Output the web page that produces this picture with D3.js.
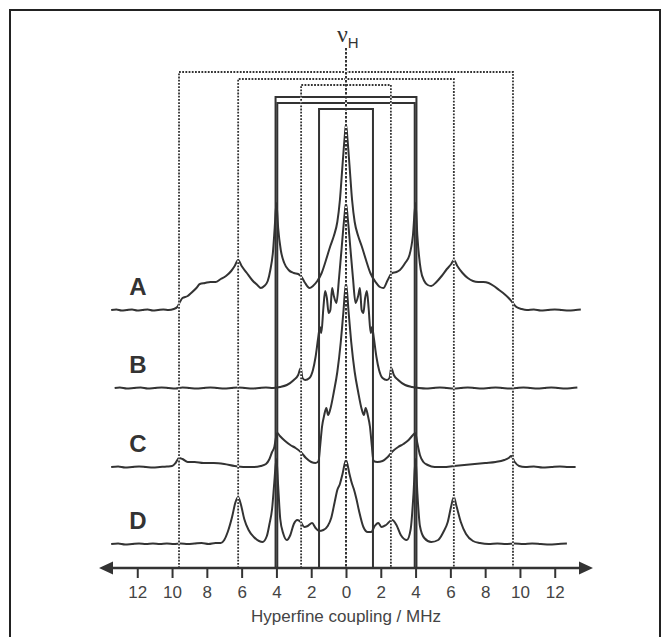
<!DOCTYPE html>
<html>
<head>
<meta charset="utf-8">
<script src="https://cdn.jsdelivr.net/npm/d3@7"></script>
<style>
  body { margin: 0; background: #fff; }
  text { font-family: "Liberation Sans", Arial, sans-serif; }
</style>
</head>
<body>
<svg id="chart" width="671" height="637"></svg>
<script>
// hyperfine coupling axis ticks (MHz)
const tickValues = [-12, -10, -8, -6, -4, -2, 0, 2, 4, 6, 8, 10, 12]
const labels = ['A', 'B', 'C', 'D']
// vertical stacking of the four traces
const offsets = [258, 180, 101, 24]

// [MHz, intensity]
const specA = [
  [-13.5, 0], [-13.2, 0.5], [-12.9, -0.5], [-12.6, 0], [-12.3, 0.5], [-12, -0.5], [-11.7, 0], [-11.4, 0.5],
  [-11.1, -0.5], [-10.8, 0], [-10.5, 0.5], [-10.2, 0], [-9.9, 1], [-9.7, 3], [-9.55, 8], [-9.4, 12],
  [-9.1, 14], [-8.9, 17], [-8.6, 22], [-8.4, 26], [-8.1, 27], [-7.8, 28], [-7.5, 28], [-7.2, 31],
  [-6.9, 34], [-6.6, 39], [-6.4, 44], [-6.2, 50], [-6.0, 44], [-5.7, 37], [-5.4, 30], [-5.1, 25],
  [-4.9, 22], [-4.7, 24], [-4.5, 29], [-4.35, 40], [-4.2, 58], [-4.1, 82], [-4.0, 107], [-3.9, 82],
  [-3.75, 60], [-3.55, 47], [-3.3, 40], [-3.0, 37], [-2.75, 36], [-2.55, 33], [-2.35, 27], [-2.1, 22],
  [-1.9, 24], [-1.65, 29], [-1.4, 37], [-1.15, 50], [-0.9, 64], [-0.7, 74], [-0.5, 88], [-0.35, 110],
  [-0.2, 145], [-0.08, 172], [0, 186], [0.08, 172], [0.2, 145], [0.35, 110], [0.5, 88], [0.7, 74],
  [0.9, 64], [1.15, 50], [1.4, 37], [1.7, 28], [1.95, 23], [2.15, 22], [2.4, 30], [2.65, 37],
  [2.9, 38], [3.1, 40], [3.4, 47], [3.65, 55], [3.85, 75], [4.0, 107], [4.1, 75], [4.3, 40],
  [4.5, 29], [4.7, 25], [4.9, 24], [5.2, 28], [5.5, 34], [5.8, 41], [6.05, 46], [6.2, 50],
  [6.4, 44], [6.7, 37], [7.0, 32], [7.3, 29], [7.6, 28], [7.9, 28], [8.2, 27], [8.5, 24],
  [8.8, 20], [9.1, 16], [9.35, 12], [9.55, 8], [9.8, 3], [10.1, 1], [10.4, 0], [10.8, 0.5],
  [11.2, -0.5], [11.6, 0], [12, 0.5], [12.4, 0], [12.8, -0.5], [13.2, 0], [13.5, 0.5]
]

const specB = [
  [-13.3, 0], [-13, 0.5], [-12.6, -0.5], [-12.2, 0], [-11.8, 0.5], [-11.4, -0.5], [-11, 0], [-10.6, 0.5],
  [-10.2, 0], [-9.8, -0.5], [-9.4, 0.5], [-9, 0], [-8.6, -0.5], [-8.2, 0], [-7.8, 0.5], [-7.4, 0],
  [-7, -0.5], [-6.6, 0], [-6.2, 0.5], [-5.8, 0], [-5.4, -0.5], [-5, 0], [-4.6, 0.5], [-4.2, 0],
  [-3.8, 1], [-3.4, 3], [-3.0, 8], [-2.75, 13], [-2.6, 20], [-2.5, 10], [-2.35, 8], [-2.1, 10],
  [-1.9, 18], [-1.75, 31], [-1.6, 50], [-1.5, 61], [-1.42, 55], [-1.3, 80], [-1.2, 97], [-1.1, 90],
  [-1.0, 75], [-0.9, 78], [-0.8, 100], [-0.7, 92], [-0.55, 85], [-0.4, 110], [-0.25, 140], [-0.1, 170],
  [0, 185], [0.1, 170], [0.25, 140], [0.4, 110], [0.55, 85], [0.7, 92], [0.8, 100], [0.9, 78],
  [1.0, 75], [1.1, 90], [1.2, 97], [1.3, 80], [1.42, 55], [1.5, 61], [1.6, 50], [1.75, 31],
  [1.9, 18], [2.1, 10], [2.35, 8], [2.5, 10], [2.6, 20], [2.75, 13], [3.0, 8], [3.4, 3],
  [3.8, 1], [4.2, 0], [4.6, -0.5], [5, 0], [5.4, 0.5], [5.8, 0], [6.2, -0.5], [6.6, 0],
  [7, 0.5], [7.4, 0], [7.8, -0.5], [8.2, 0], [8.6, 0.5], [9, 0], [9.4, -0.5], [9.8, 0],
  [10.2, 0.5], [10.6, 0], [11, -0.5], [11.4, 0], [11.8, 0.5], [12.2, 0], [12.6, -0.5], [13, 0], [13.3, 0.5]
]

const specC = [
  [-13.5, 0], [-13.1, 0.5], [-12.7, -0.5], [-12.3, 0], [-11.9, 0.5], [-11.5, 0], [-11.1, -0.5], [-10.7, 0],
  [-10.3, 0.5], [-10.0, 1], [-9.8, 4], [-9.6, 9], [-9.4, 8], [-9.1, 5], [-8.7, 5], [-8.2, 4],
  [-7.6, 4], [-7.0, 3], [-6.4, 1], [-5.8, 0], [-5.3, 0], [-4.9, 1], [-4.6, 3], [-4.4, 8],
  [-4.25, 15], [-4.12, 20], [-4.02, 30], [-3.95, 34], [-3.8, 31], [-3.5, 26], [-3.2, 22], [-2.9, 19],
  [-2.6, 15], [-2.3, 9], [-2.0, 5], [-1.75, 4], [-1.58, 6], [-1.48, 22], [-1.38, 40], [-1.25, 52],
  [-1.13, 59], [-1.03, 52], [-0.9, 58], [-0.7, 75], [-0.5, 95], [-0.3, 125], [-0.15, 155], [0, 184],
  [0.15, 155], [0.3, 125], [0.5, 95], [0.7, 75], [0.9, 58], [1.03, 52], [1.13, 59], [1.25, 52],
  [1.38, 40], [1.48, 22], [1.58, 6], [1.8, 5], [2.1, 6], [2.4, 10], [2.7, 16], [3.0, 20],
  [3.3, 23], [3.6, 27], [3.85, 32], [3.98, 34], [4.1, 24], [4.25, 12], [4.45, 5], [4.7, 2],
  [5.1, 0], [5.6, 0], [6.2, 1], [6.8, 2], [7.4, 3], [8.0, 4], [8.6, 5], [9.1, 7],
  [9.35, 9], [9.5, 11], [9.7, 5], [9.95, 1], [10.3, 0], [10.8, 0.5], [11.3, -0.5], [11.8, 0],
  [12.3, 0.5], [12.8, 0], [13.2, 0]
]

const specD = [
  [-13.5, 0], [-13.1, 0.5], [-12.7, -0.5], [-12.3, 0], [-11.9, 0.5], [-11.5, 0], [-11.1, 0.5], [-10.7, 0],
  [-10.3, 0.5], [-9.9, 0], [-9.5, 0.5], [-9.1, 0], [-8.7, 0.5], [-8.3, 1], [-7.9, 0], [-7.5, 1],
  [-7.2, 1], [-7.0, 4], [-6.8, 12], [-6.55, 27], [-6.35, 42], [-6.2, 47], [-6.05, 40], [-5.85, 25],
  [-5.6, 14], [-5.3, 7], [-5.0, 3], [-4.8, 2], [-4.55, 8], [-4.4, 20], [-4.25, 35], [-4.12, 62],
  [-4.0, 85], [-3.9, 58], [-3.78, 25], [-3.6, 10], [-3.4, 4], [-3.2, 9], [-3.0, 20], [-2.8, 24],
  [-2.6, 22], [-2.4, 17], [-2.2, 18], [-1.95, 21], [-1.75, 16], [-1.55, 13], [-1.3, 14], [-1.05, 18],
  [-0.85, 26], [-0.65, 42], [-0.5, 54], [-0.35, 60], [-0.2, 70], [0, 84], [0.2, 70], [0.35, 60],
  [0.45, 55], [0.6, 45], [0.75, 33], [1.0, 17], [1.25, 12], [1.45, 12], [1.65, 18], [1.85, 21],
  [2.05, 17], [2.3, 19], [2.65, 24], [2.9, 19], [3.15, 9], [3.5, 4], [3.72, 15], [3.88, 50],
  [4.0, 85], [4.1, 52], [4.25, 18], [4.5, 6], [4.9, 2], [5.3, 4], [5.6, 12], [5.85, 22],
  [6.05, 38], [6.2, 47], [6.35, 38], [6.6, 22], [6.9, 10], [7.3, 3], [7.7, 1], [8.2, 0],
  [8.7, 0.5], [9.2, 0], [9.7, 0.5], [10.2, 0], [10.7, 0.5], [11.2, 0], [11.7, -0.5], [12.2, 0], [12.7, 0.5]
]

const spectra = [specA, specB, specC, specD]

// bracket markers (MHz) and the height of their top bar
const dottedCouplings = [9.6, 6.2, 2.58]
const dottedTops = [496, 489, 483]
const solidCouplings = [4.05, 3.95, 1.55]
const solidTops = [471, 465, 459]
const centreTop = 520

const ink = '#333'

const svg = d3.select('#chart')

const x = d3.scaleLinear().domain([-14.2, 14.2]).range([99, 593])
const y = d3.scaleLinear().domain([0, 460]).range([568, 108])

// outer frame
svg.append('rect')
  .attr('x', 10).attr('y', 10)
  .attr('width', 650).attr('height', 660)
  .attr('fill', 'none')
  .attr('stroke', '#222')
  .attr('stroke-width', 2)

const bracket = (a, top) => `M${x(-a)},${y(0)}V${y(top)}H${x(a)}V${y(0)}`

// solid brackets
svg.append('g')
  .selectAll('path')
  .data(solidCouplings)
  .join('path')
  .attr('d', (d, i) => bracket(d, solidTops[i]))
  .attr('fill', 'none')
  .attr('stroke', ink)
  .attr('stroke-width', 2)

// traces
const line = d3.line()
  .x(d => x(d[0]))
  .y(d => d.y)
  .curve(d3.curveMonotoneX)

svg.append('g')
  .selectAll('path')
  .data(spectra)
  .join('path')
  .attr('d', (s, i) => line(s.map(p => Object.assign([p[0], p[1]], { y: y(offsets[i] + p[1]) }))))
  .attr('fill', 'none')
  .attr('stroke', ink)
  .attr('stroke-width', 2)
  .attr('stroke-linejoin', 'round')

// dotted brackets, on a white underlay
const dotted = svg.append('g')
dotted.selectAll('path.under')
  .data(dottedCouplings)
  .join('path')
  .attr('class', 'under')
  .attr('d', (d, i) => bracket(d, dottedTops[i]))
  .attr('fill', 'none')
  .attr('stroke', '#fff')
  .attr('stroke-width', 1.8)
dotted.selectAll('path.dots')
  .data(dottedCouplings)
  .join('path')
  .attr('class', 'dots')
  .attr('d', (d, i) => bracket(d, dottedTops[i]))
  .attr('fill', 'none')
  .attr('stroke', '#333')
  .attr('stroke-width', 1.8)
  .attr('stroke-dasharray', '1.8,1.4')

// nu_H centre line
svg.append('line')
  .attr('x1', x(0)).attr('x2', x(0))
  .attr('y1', y(centreTop)).attr('y2', y(0))
  .attr('stroke', '#fff')
  .attr('stroke-width', 2)
svg.append('line')
  .attr('x1', x(0)).attr('x2', x(0))
  .attr('y1', y(centreTop)).attr('y2', y(0))
  .attr('stroke', '#333')
  .attr('stroke-width', 2)
  .attr('stroke-dasharray', '2.5,1.5')

const nu = svg.append('text')
  .attr('x', x(0) - 9)
  .attr('y', 42)
  .attr('fill', ink)
nu.append('tspan')
  .style('font-family', '"Liberation Serif", "DejaVu Serif", serif')
  .attr('font-size', 24)
  .text('ν')
nu.append('tspan')
  .attr('font-size', 15)
  .attr('dy', 6)
  .text('H')

// row labels
svg.append('g')
  .selectAll('text')
  .data(labels)
  .join('text')
  .attr('x', 138)
  .attr('y', (d, i) => y(offsets[i] + 15))
  .attr('text-anchor', 'middle')
  .attr('font-size', 24)
  .attr('font-weight', 'bold')
  .attr('fill', ink)
  .text(d => d)

// axis
const axis = svg.append('g')
  .attr('transform', `translate(0,${y(0)})`)
  .call(d3.axisBottom(x)
    .tickValues(tickValues)
    .tickSize(10)
    .tickPadding(8)
    .tickFormat(d => Math.abs(d)))
axis.select('.domain').remove()
axis.selectAll('.tick line').attr('stroke', ink).attr('stroke-width', 2)
axis.selectAll('.tick text')
  .attr('font-size', 17)
  .attr('fill', '#444')
  .style('font-family', '"Liberation Sans", Arial, sans-serif')

const [x0, x1] = x.range()
svg.append('line')
  .attr('x1', x0 + 10).attr('x2', x1 - 10)
  .attr('y1', y(0)).attr('y2', y(0))
  .attr('stroke', ink)
  .attr('stroke-width', 2.5)
svg.append('path')
  .attr('d', `M${x0},${y(0)}l14,-6.5v13z M${x1},${y(0)}l-14,-6.5v13z`)
  .attr('fill', ink)

svg.append('text')
  .attr('x', x(0))
  .attr('y', 622)
  .attr('text-anchor', 'middle')
  .attr('font-size', 17)
  .attr('fill', '#444')
  .text('Hyperfine coupling / MHz')
</script>
</body>
</html>
